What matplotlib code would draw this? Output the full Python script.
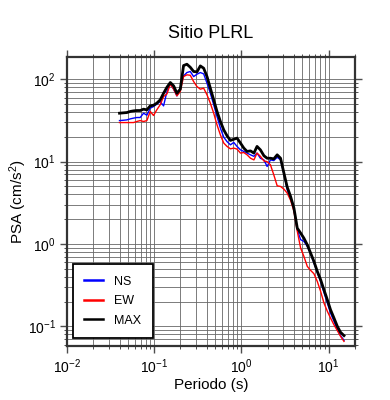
import matplotlib
matplotlib.use('Agg')
import matplotlib.pyplot as plt
from matplotlib.ticker import LogLocator, NullFormatter

plt.rcParams['font.family'] = ['Liberation Sans', 'DejaVu Sans']
plt.rcParams['mathtext.fontset'] = 'custom'
plt.rcParams['mathtext.rm'] = 'Liberation Sans'
plt.rcParams['mathtext.it'] = 'Liberation Sans'

# Periodos (s)
periodos = [0.040, 0.0445, 0.0485, 0.053, 0.0578, 0.0632, 0.069, 0.0755, 0.0824, 0.090,
            0.0982, 0.107, 0.117, 0.128, 0.140, 0.153, 0.167, 0.182, 0.199, 0.217,
            0.237, 0.259, 0.283, 0.309, 0.338, 0.369, 0.403, 0.44, 0.481, 0.525,
            0.574, 0.627, 0.684, 0.748, 0.817, 0.89, 0.975, 1.065, 1.16, 1.27,
            1.39, 1.51, 1.65, 1.81, 1.97, 2.15, 2.35, 2.57, 2.81, 3.07,
            3.35, 3.66, 4.0, 4.37, 4.77, 5.2, 5.69, 6.21, 6.78, 7.41,
            8.09, 8.83, 9.66, 10.5, 11.5, 12.6, 13.7, 15.0]

# PSA (cm/s2)
ns = [31.5, 31.8, 32.1, 33.0, 33.7, 34.3, 34.3, 38.7, 36.6, 44.5,
      46.6, 49.8, 53.6, 47.5, 70.9, 87.7, 75.7, 62.8, 77.8, 109.7,
      120.5, 124, 107.6, 115, 120.5, 116, 89.5, 67.6, 48.9, 35.2,
      25.5, 19.8, 17.5, 16.0, 17.1, 15.3, 13.9, 13.3, 12.7, 12.1,
      11.6, 12.7, 11.0, 10.5, 8.73, 10.5, 10.3, 11.3, 10.5, 7.13,
      4.56, 3.61, 2.61, 1.49, 1.13, 1.08, 0.938, 0.764, 0.589, 0.454,
      0.352, 0.259, 0.193, 0.146, 0.116, 0.0916, 0.0775, 0.068]

ew = [29.8, 29.8, 29.8, 29.8, 29.8, 30.7, 31.5, 30.7, 31.5, 40.6,
      36.3, 42.5, 48.9, 61.6, 66.4, 87.7, 75.7, 62.8, 70.9, 107.6,
      113, 111.7, 93.7, 81.5, 75.7, 77.8, 64.6, 51.2, 38.7, 27.9,
      21.1, 16.8, 15.3, 14.3, 14.6, 14.2, 12.7, 12.9, 12.1, 11.0,
      10.5, 12.7, 11.6, 10.2, 10.0, 9.16, 6.92, 5.09, 5.0, 4.64,
      4.15, 3.4, 2.5, 1.43, 0.895, 0.71, 0.536, 0.48, 0.437, 0.352,
      0.267, 0.193, 0.153, 0.127, 0.105, 0.0889, 0.076, 0.066]

maxi = [38.7, 39.1, 39.4, 40.6, 41.3, 41.7, 41.7, 43.3, 42.5, 47.5,
        48.4, 51.2, 56.1, 67.6, 80, 91.2, 83, 67.6, 75.7, 146.5,
        152, 139.7, 124, 122.7, 145, 136, 107.6, 77.8, 56.1, 40.6,
        30.7, 24.3, 20.6, 18.1, 18.7, 19.3, 16.8, 14.6, 13.3, 13.5,
        12.7, 15.3, 13.9, 11.8, 11.0, 11.0, 10.8, 12.1, 11.0, 7.26,
        4.91, 3.78, 2.73, 1.56, 1.36, 1.18, 0.98, 0.778, 0.617, 0.466,
        0.370, 0.279, 0.211, 0.160, 0.127, 0.100, 0.085, 0.0775]

fig = plt.figure(figsize=(3.9, 4.0), dpi=100)
ax = fig.add_axes([0.1718, 0.135, 0.7382, 0.7225])

ax.plot(periodos, ns, color='#0000ff', lw=1.0, label='NS', zorder=3)
ax.plot(periodos, ew, color='#ff0000', lw=1.0, label='EW', zorder=3)
ax.plot(periodos, maxi, color='black', lw=2.0, label='MAX', zorder=4)

ax.set_xscale('log')
ax.set_yscale('log')
ax.set_xlim(0.01, 20)
ax.set_ylim(0.058, 186)

for axis in (ax.xaxis, ax.yaxis):
    axis.set_major_locator(LogLocator(base=10, numticks=10))
    axis.set_minor_locator(LogLocator(base=10, subs=range(2, 10), numticks=20))
    axis.set_minor_formatter(NullFormatter())

ax.grid(True, which='both', color='0.4', lw=0.6)
ax.set_axisbelow(True)

for s in ax.spines.values():
    s.set_linewidth(1.6)
    s.set_color('0.2')

ax.tick_params(which='both', direction='out', top=True, right=True,
               labeltop=False, labelright=False, color='0.3', labelsize=10)
ax.tick_params(which='major', length=5, width=1.0, pad=3)
ax.tick_params(which='minor', length=2.5, width=0.7)

ax.set_xlabel('Periodo (s)', fontsize=11, labelpad=2)
ax.set_ylabel('PSA (cm/s$^2$)', fontsize=11, labelpad=-1)

fig.text(0.541, 0.9175, 'Sitio PLRL', ha='center', va='center', fontsize=13)

leg = ax.legend(loc='lower left', bbox_to_anchor=(0.021, 0.028), borderaxespad=0,
                fancybox=False, framealpha=1, edgecolor='black', fontsize=9,
                handlelength=1.5, handletextpad=0.9, labelspacing=0.6,
                borderpad=0.9)
leg.get_frame().set_linewidth(1.3)
for line in leg.get_lines():
    line.set_linewidth(1.8)

fig.savefig('out.png', dpi=100)
